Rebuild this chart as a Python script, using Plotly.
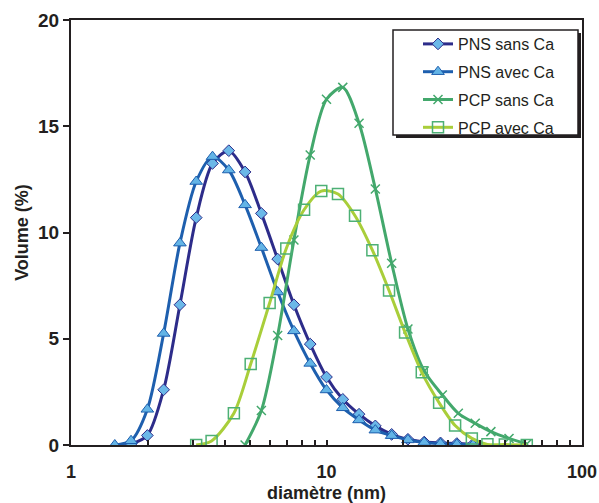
import plotly.graph_objects as go

# ---- data ----
pns_x = [1.484, 1.718, 1.990, 2.305, 2.669, 3.091, 3.580, 4.145, 4.801, 5.560, 6.439,
         7.456, 8.635, 10.00, 11.58, 13.41, 15.53, 17.99, 20.83, 24.12, 27.94, 32.36, 37.47]

pns_sans_x = pns_x[1:]
pns_sans_y = [0.05, 0.45, 2.6, 6.6, 10.7, 13.25, 13.85, 12.85, 10.9, 8.75, 6.6,
              4.75, 3.2, 2.15, 1.45, 0.9, 0.5, 0.27, 0.14, 0.1, 0.07, 0.04]

pns_avec_x = pns_x
pns_avec_y = [0.0, 0.2, 1.68, 5.25, 9.5, 12.4, 13.57, 12.94, 11.3, 9.29, 7.2,
              5.37, 3.84, 2.59, 1.75, 1.18, 0.7, 0.44, 0.24, 0.12, 0.06, 0.03, 0.01]

pcp_sans_x = [4.801, 5.560, 6.439, 7.456, 8.635, 10.00, 11.58, 13.41, 15.53, 17.99,
              20.83, 24.12, 28.4, 32.8, 38.2, 44.0, 51.8, 60.8]
pcp_sans_y = [0.0, 1.62, 5.15, 9.65, 13.65, 16.27, 16.83, 15.14, 12.05, 8.55,
              5.46, 3.48, 2.35, 1.49, 1.02, 0.63, 0.31, 0.05]

pcp_avec_x = [3.09, 3.55, 4.34, 5.05, 5.99, 6.96, 8.17, 9.54, 11.09, 12.93,
              15.12, 17.57, 20.30, 23.60, 27.59, 31.87, 37.05, 42.65, 49.89, 60.8]
pcp_avec_y = [0.0, 0.19, 1.49, 3.81, 6.68, 9.25, 11.07, 11.95, 11.81, 10.79,
              9.17, 7.27, 5.3, 3.42, 1.99, 0.92, 0.31, 0.03, 0.02, 0.0]

x_tick_vals = [1, 2, 3, 4, 5, 6, 7, 8, 9, 10, 20, 30, 40, 50, 60, 70, 80, 90, 100]
x_tick_text = ["1", "", "", "", "", "", "", "", "", "10", "", "", "", "", "", "", "", "", "100"]
y_tick_vals = [0, 5, 10, 15, 20]

names = ["PNS sans Ca", "PNS avec Ca", "PCP sans Ca", "PCP avec Ca"]
x_title = "diamètre (nm)"
y_title = "Volume (%)"

FONT = "Liberation Sans, Arial, sans-serif"
INK = "#231F20"
W, H = 599, 503
L, R, T, B = 71, 17, 20, 58


def px2paper_x(px):
    return (px - L) / (W - L - R)


def px2paper_y(py):
    return (H - B - py) / (H - T - B)


fig = go.Figure()

fig.add_trace(go.Scatter(
    x=pns_sans_x, y=pns_sans_y, name=names[0], legendgroup="a",
    mode="lines+markers", line=dict(color="#2D2C8A", width=3, shape="spline", smoothing=0.8),
    marker=dict(symbol="diamond", size=9, color="#6BB8E8", line=dict(color="#2D2C8A", width=1))))

fig.add_trace(go.Scatter(
    x=pns_avec_x, y=pns_avec_y, name=names[1], legendgroup="b",
    mode="lines+markers", line=dict(color="#1E5FAE", width=3, shape="spline", smoothing=0.8),
    marker=dict(symbol="triangle-up", size=11, color="#63B4E6", line=dict(color="#1E5FAE", width=1))))

fig.add_trace(go.Scatter(
    x=pcp_sans_x, y=pcp_sans_y, name=names[2], legendgroup="c",
    mode="lines+markers", line=dict(color="#43A86C", width=3, shape="spline", smoothing=0.8),
    marker=dict(symbol="x-thin", size=9, color="#43A86C", line=dict(color="#43A86C", width=1.5))))

fig.add_trace(go.Scatter(
    x=pcp_avec_x, y=pcp_avec_y, name=names[3], legendgroup="d",
    mode="lines+markers", line=dict(color="#A9CE3A", width=3, shape="spline", smoothing=0.8),
    marker=dict(symbol="square-open", size=11, color="#4DB075", line=dict(color="#4DB075", width=1.5))))

# legend box with drop shadow
box_l, box_t, box_r, box_b = 393, 30, 578, 135
fig.add_shape(type="rect", xref="paper", yref="paper", layer="above",
              x0=px2paper_x(box_l + 3), x1=px2paper_x(box_r + 3),
              y0=px2paper_y(box_b + 3), y1=px2paper_y(box_t + 3),
              fillcolor=INK, line=dict(width=0))
fig.add_shape(type="rect", xref="paper", yref="paper", layer="above",
              x0=px2paper_x(box_l), x1=px2paper_x(box_r),
              y0=px2paper_y(box_b), y1=px2paper_y(box_t),
              fillcolor="white", line=dict(color=INK, width=1.5))

# x axis title placed as annotation
fig.add_annotation(text=x_title, xref="paper", yref="paper",
                   x=0.5, y=px2paper_y(493), xanchor="center", yanchor="middle",
                   showarrow=False, font=dict(family=FONT, size=18, weight="bold", color=INK))

fig.update_layout(
    width=W, height=H,
    margin=dict(l=L, r=R, t=T, b=B, pad=0),
    paper_bgcolor="white", plot_bgcolor="white",
    font=dict(family=FONT, color=INK),
    showlegend=True,
    legend=dict(x=px2paper_x(418), y=px2paper_y(27), xanchor="left", yanchor="top",
                bgcolor="rgba(0,0,0,0)", borderwidth=0, tracegroupgap=4,
                font=dict(family=FONT, size=16, color=INK)),
    xaxis=dict(type="log", range=[0, 2], tickvals=x_tick_vals, ticktext=x_tick_text,
               automargin=False,
               ticks="inside", ticklen=5, tickwidth=1.5, tickcolor=INK,
               showline=True, linecolor=INK, linewidth=2, mirror=True,
               showgrid=False, zeroline=False, ticklabelstandoff=9,
               tickfont=dict(family=FONT, size=18, weight="bold", color=INK)),
    yaxis=dict(range=[0, 20], tickvals=y_tick_vals, automargin=False,
               ticks="outside", ticklen=6, tickwidth=1.5, tickcolor=INK,
               showline=True, linecolor=INK, linewidth=2, mirror=True,
               showgrid=False, zeroline=False,
               tickfont=dict(family=FONT, size=19, weight="bold", color=INK),
               title=dict(text=y_title, standoff=5,
                          font=dict(family=FONT, size=18, weight="bold", color=INK))),
)

fig.write_html("out.html", config={"displayModeBar": False},
               post_script="document.body.style.margin='0';document.body.style.overflow='hidden';")
